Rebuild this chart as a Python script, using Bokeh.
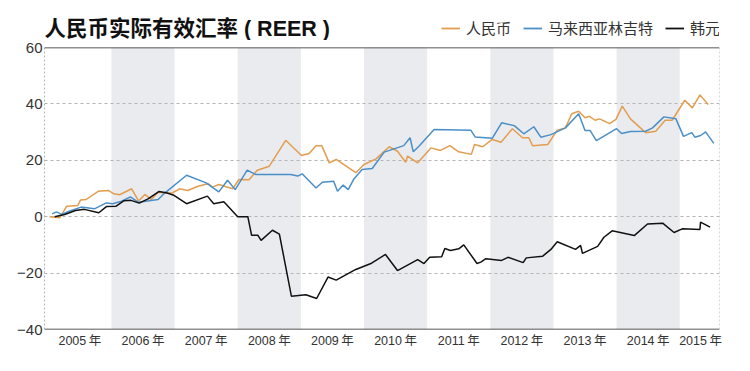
from bokeh.plotting import figure
from bokeh.layouts import column
from bokeh.models import (Legend, LegendItem, FixedTicker, CustomJSTickFormatter,
                          Span, Range1d, Label)
from bokeh.embed import file_html
from bokeh.resources import INLINE

# ---- data (decimal years, index change %) ----
cny_x = [2005.02, 2005.18, 2005.29, 2005.47, 2005.51, 2005.60, 2005.79, 2005.95,
         2006.04, 2006.13, 2006.32, 2006.43, 2006.53, 2006.63, 2006.74, 2006.86,
         2006.97, 2007.08, 2007.21, 2007.37, 2007.53, 2007.60, 2007.70, 2007.92,
         2008.02, 2008.18, 2008.31, 2008.50, 2008.76, 2009.01, 2009.13, 2009.24,
         2009.33, 2009.45, 2009.56, 2009.87, 2010.00, 2010.19, 2010.40, 2010.53,
         2010.66, 2010.69, 2010.85, 2011.06, 2011.21, 2011.36, 2011.50, 2011.70,
         2011.75, 2011.88, 2012.03, 2012.17, 2012.35, 2012.51, 2012.61, 2012.67,
         2012.91, 2013.06, 2013.19, 2013.29, 2013.40, 2013.50, 2013.57, 2013.66,
         2013.73, 2013.89, 2013.99, 2014.09, 2014.22, 2014.46, 2014.62, 2014.77,
         2014.88, 2015.08, 2015.20, 2015.32, 2015.45]
cny_y = [0.0, -0.4, 3.7, 4.0, 5.9, 6.1, 9.0, 9.3,
         8.1, 7.8, 9.9, 5.6, 7.9, 6.1, 8.7, 8.3,
         8.5, 9.9, 9.3, 10.8, 11.7, 10.5, 11.4, 9.9,
         13.2, 13.1, 16.5, 17.9, 27.1, 21.7, 22.4, 25.2,
         25.2, 19.1, 20.3, 15.6, 18.5, 20.5, 24.8, 23.2,
         19.3, 21.5, 19.1, 24.4, 23.5, 25.2, 23.0, 22.1,
         25.6, 24.8, 27.4, 26.4, 31.2, 28.0, 28.0, 25.2,
         25.6, 30.7, 31.5, 36.5, 37.4, 35.1, 35.6, 34.2,
         34.7, 33.0, 34.5, 39.2, 34.7, 29.8, 30.3, 34.2,
         34.2, 41.3, 38.6, 43.2, 39.8]

myr_x = [2005.06, 2005.13, 2005.21, 2005.34, 2005.52, 2005.73, 2005.92, 2006.02,
         2006.16, 2006.30, 2006.43, 2006.74, 2006.82, 2007.19, 2007.50, 2007.70,
         2007.84, 2007.96, 2008.15, 2008.28, 2008.84, 2008.95, 2009.02, 2009.24,
         2009.34, 2009.52, 2009.58, 2009.67, 2009.75, 2009.84, 2009.97, 2010.13,
         2010.32, 2010.63, 2010.73, 2010.78, 2010.87, 2011.11, 2011.69, 2011.76,
         2012.03, 2012.18, 2012.38, 2012.53, 2012.69, 2012.80, 2012.96, 2013.19,
         2013.40, 2013.50, 2013.58, 2013.68, 2014.00, 2014.08, 2014.22, 2014.46,
         2014.57, 2014.75, 2014.94, 2015.06, 2015.19, 2015.24, 2015.33, 2015.41,
         2015.54]
myr_y = [1.0, 1.7, 0.8, 2.0, 3.4, 2.8, 4.9, 4.6,
         5.5, 7.0, 5.1, 6.1, 7.9, 14.7, 12.0, 8.8,
         12.9, 9.6, 16.5, 15.0, 15.0, 14.4, 15.2, 10.2,
         12.2, 12.6, 9.0, 11.2, 9.6, 13.4, 16.7, 17.1,
         22.9, 25.2, 28.0, 23.0, 25.0, 30.9, 30.7, 28.3,
         27.8, 33.3, 32.3, 29.4, 31.9, 28.2, 29.1, 31.5,
         36.5, 30.6, 30.6, 27.0, 31.2, 29.5, 30.2, 30.3,
         31.5, 35.4, 34.7, 28.5, 29.8, 28.2, 28.8, 30.1,
         26.0]

krw_x = [2005.10, 2005.26, 2005.43, 2005.57, 2005.80, 2005.92, 2006.07, 2006.20,
         2006.31, 2006.44, 2006.58, 2006.75, 2006.87, 2006.99, 2007.19, 2007.52,
         2007.62, 2007.78, 2008.00, 2008.16, 2008.22, 2008.32, 2008.37, 2008.55,
         2008.66, 2008.85, 2009.08, 2009.25, 2009.43, 2009.56, 2009.87, 2010.12,
         2010.34, 2010.53, 2010.85, 2010.95, 2011.04, 2011.23, 2011.28, 2011.37,
         2011.50, 2011.58, 2011.79, 2011.85, 2011.93, 2012.18, 2012.28, 2012.52,
         2012.57, 2012.83, 2012.96, 2013.06, 2013.35, 2013.43, 2013.46, 2013.70,
         2013.80, 2013.93, 2014.28, 2014.49, 2014.73, 2014.91, 2015.04, 2015.32,
         2015.33, 2015.48]
krw_y = [0.0, 0.8, 2.2, 2.6, 1.4, 3.6, 3.7, 5.7,
         5.8, 4.8, 6.3, 8.9, 8.5, 7.6, 4.6, 7.3,
         4.6, 5.3, 0.0, 0.0, -6.6, -6.6, -8.4, -4.8,
         -6.2, -28.2, -27.7, -29.0, -21.4, -22.5, -18.7, -16.5,
         -13.4, -19.1, -15.2, -16.6, -14.4, -14.2, -11.3, -12.0,
         -11.4, -10.0, -16.6, -16.1, -14.9, -15.5, -14.4, -16.3,
         -14.6, -14.0, -11.6, -8.9, -11.6, -10.2, -13.0, -10.5,
         -7.3, -5.0, -6.7, -2.6, -2.3, -5.6, -4.3, -4.5,
         -1.9, -3.7]

series_names = ["人民币", "马来西亚林吉特", "韩元"]
series_colors = ["#E29D4F", "#4A8FC7", "#111111"]

band_years = [2006, 2008, 2010, 2012, 2014]
year_label_pos = [2005.5, 2006.5, 2007.5, 2008.5, 2009.5, 2010.5, 2011.5,
                  2012.5, 2013.5, 2014.5, 2015.33]
y_ticks = [-40, -20, 0, 20, 40, 60]
x_start, x_end = 2004.94, 2015.63
y_start, y_end = -40, 60

title_text = "人民币实际有效汇率 ( REER )"

FONT = "Liberation Sans, Noto Sans CJK SC"

W = 734
TOTAL_H = 354
HDR_H = 40
LEFT, RIGHT = 44, 15
MAIN_TOP = 7

# ---- header: title + legend ----
hdr = figure(width=W, height=HDR_H, x_range=Range1d(0, W - LEFT - RIGHT),
             y_range=Range1d(0, HDR_H),
             x_axis_type=None, y_axis_type=None,
             min_border_left=LEFT, min_border_right=RIGHT,
             min_border_top=0, min_border_bottom=0,
             output_backend="svg", toolbar_location=None, title=None)
hdr.grid.visible = False
hdr.outline_line_color = None
hdr.add_layout(Label(x=0, y=12, text=title_text, text_baseline="middle",
                     text_font=FONT, text_font_size="21.5px",
                     text_font_style="bold", text_color="#111111"))
dummies = [hdr.line(x=[-50, -40], y=[-50, -50], line_color=c, line_width=1.8)
           for c in series_colors]
legend = Legend(items=[LegendItem(label=n, renderers=[r]) for n, r in zip(series_names, dummies)],
                orientation="horizontal", location=(397, 2),
                border_line_color=None, background_fill_alpha=0,
                padding=0, margin=0, spacing=12, glyph_width=19, glyph_height=10,
                label_height=10, label_standoff=6, label_text_font=FONT,
                label_text_font_size="15px", label_text_color="#333333")
hdr.add_layout(legend)

# ---- main chart ----
p = figure(width=W, height=TOTAL_H - HDR_H,
           min_border_left=LEFT, min_border_right=RIGHT,
           min_border_top=MAIN_TOP, min_border_bottom=TOTAL_H - HDR_H - MAIN_TOP - 282,
           x_range=Range1d(x_start, x_end), y_range=Range1d(y_start, y_end),
           output_backend="svg", toolbar_location=None, title=None)
p.outline_line_color = None

# year shading bands
p.quad(left=band_years, right=[b + 1 for b in band_years],
       bottom=[y_start] * len(band_years), top=[y_end] * len(band_years),
       fill_color="#EAEBEF", line_color=None, level="underlay")

for xs, ys, c in zip([cny_x, myr_x, krw_x], [cny_y, myr_y, krw_y], series_colors):
    p.line(xs, ys, line_color=c, line_width=1.5)

p.xgrid.visible = False
p.ygrid.ticker = FixedTicker(ticks=y_ticks)
p.ygrid.grid_line_color = "#B4B4B4"
p.ygrid.grid_line_dash = "3 3"
p.ygrid.grid_line_width = 1

xa = p.xaxis[0]
xa.ticker = FixedTicker(ticks=year_label_pos)
xa.formatter = CustomJSTickFormatter(code="return Math.floor(tick) + '\u2009年'")
xa.axis_line_color = None
xa.major_tick_line_color = None
xa.minor_tick_line_color = None
xa.major_tick_out = 0
xa.major_tick_in = 0
xa.minor_tick_out = 0
xa.major_label_text_font = FONT
xa.major_label_text_font_size = "12.5px"
xa.major_label_text_color = "#333333"
xa.major_label_standoff = 4

ya = p.yaxis[0]
ya.ticker = FixedTicker(ticks=y_ticks)
ya.formatter = CustomJSTickFormatter(code="return tick < 0 ? '\u2212' + Math.abs(tick) : '' + tick")
ya.axis_line_color = "#B4B4B4"
ya.axis_line_dash = "2 2"
ya.major_tick_line_color = None
ya.minor_tick_line_color = None
ya.major_tick_out = 0
ya.major_tick_in = 0
ya.minor_tick_out = 0
ya.major_label_text_font = FONT
ya.major_label_text_font_size = "15px"
ya.major_label_text_color = "#333333"
ya.major_label_standoff = 2

p.add_layout(Span(location=x_end, dimension="height", line_color="#B4B4B4",
                  line_dash="2 2", line_width=1))
p.add_layout(Span(location=y_end, dimension="width", line_color="#222222", line_width=1.6))
p.add_layout(Span(location=y_start, dimension="width", line_color="#222222", line_width=1.6))

layout = column(hdr, p, spacing=0)
open("out.html", "w").write(file_html(layout, INLINE))
